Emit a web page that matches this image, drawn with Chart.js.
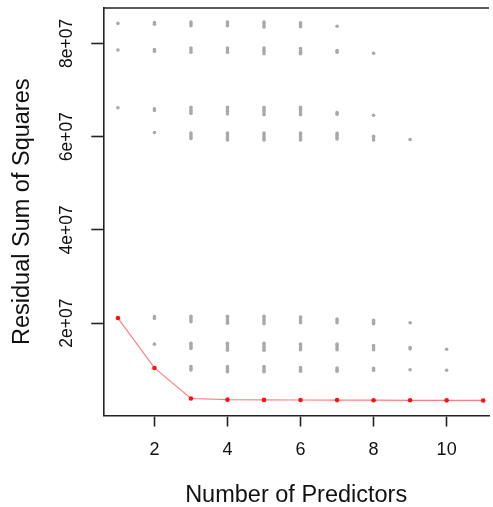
<!DOCTYPE html>
<html>
<head>
<meta charset="utf-8">
<script src="https://cdn.jsdelivr.net/npm/chart.js@4.4.1/dist/chart.umd.min.js"></script>
<style>
  html, body { margin: 0; padding: 0; background: #ffffff; overflow: hidden; }
  #wrap { width: 493px; height: 507px; }
</style>
</head>
<body>
<div id="wrap"><canvas id="c" width="493" height="507"></canvas></div>
<script>
// ---- data ----
const numPredictors = [1, 2, 3, 4, 5, 6, 7, 8, 9, 10, 11];

// best model RSS for each number of predictors (red line)
const bestRSS = [2.11e7, 1.04e7, 3.85e6, 3.6e6, 3.55e6, 3.52e6, 3.5e6, 3.48e6, 3.46e6, 3.45e6, 3.43e6];

// RSS of all candidate models (grey points), one list per number of predictors
const rssK1 = [8.43e7, 7.86e7, 6.62e7];
const rssK2 = [8.45e7, 8.41e7, 7.87e7, 7.83e7, 6.60e7, 6.56e7, 6.09e7, 2.14e7, 2.10e7, 1.55e7];
const rssK3 = [8.46e7, 8.42e7, 8.38e7, 7.90e7, 7.86e7, 7.81e7, 6.63e7, 6.58e7, 6.54e7, 6.50e7,
               6.08e7, 6.04e7, 6.00e7, 5.96e7, 2.15e7, 2.11e7, 2.07e7, 2.03e7,
               1.57e7, 1.53e7, 1.50e7, 1.46e7, 1.07e7, 1.03e7, 0.995e7];
const rssK4 = [8.46e7, 8.42e7, 8.38e7, 7.90e7, 7.86e7, 7.81e7, 6.63e7, 6.58e7, 6.54e7, 6.49e7,
               6.08e7, 6.04e7, 6.00e7, 5.96e7, 5.93e7, 2.15e7, 2.11e7, 2.07e7, 2.03e7, 2.00e7,
               1.57e7, 1.53e7, 1.49e7, 1.45e7, 1.42e7, 1.07e7, 1.03e7, 0.99e7, 0.96e7];
const rssK5 = [8.46e7, 8.42e7, 8.38e7, 8.35e7, 7.90e7, 7.86e7, 7.82e7, 7.78e7,
               6.63e7, 6.59e7, 6.55e7, 6.51e7, 6.47e7, 6.08e7, 6.04e7, 6.00e7, 5.96e7, 5.93e7,
               2.15e7, 2.11e7, 2.07e7, 2.03e7, 1.99e7, 1.57e7, 1.53e7, 1.49e7, 1.45e7, 1.42e7,
               1.07e7, 1.03e7, 0.99e7, 0.96e7];
const rssK6 = [8.44e7, 8.40e7, 8.36e7, 7.89e7, 7.85e7, 7.81e7, 7.78e7,
               6.63e7, 6.59e7, 6.55e7, 6.51e7, 6.47e7, 6.08e7, 6.04e7, 6.00e7, 5.96e7, 5.93e7,
               2.13e7, 2.09e7, 2.05e7, 2.01e7, 1.55e7, 1.51e7, 1.47e7, 1.43e7,
               1.05e7, 1.01e7, 0.97e7];
const rssK7 = [8.37e7, 7.85e7, 7.81e7, 6.52e7, 6.48e7, 6.07e7, 6.03e7, 5.99e7, 5.95e7,
               2.09e7, 2.05e7, 2.01e7, 1.55e7, 1.51e7, 1.47e7, 1.43e7, 1.04e7, 1.00e7, 0.97e7];
const rssK8 = [7.79e7, 6.46e7, 6.01e7, 5.97e7, 5.93e7, 2.06e7, 2.02e7, 1.99e7,
               1.52e7, 1.48e7, 1.43e7, 1.03e7, 0.99e7];
const rssK9 = [5.94e7, 2.01e7, 1.48e7, 1.45e7, 1.00e7];
const rssK10 = [1.44e7, 0.99e7];
const rssK11 = [];
const allRSS = [rssK1, rssK2, rssK3, rssK4, rssK5, rssK6, rssK7, rssK8, rssK9, rssK10, rssK11];

const xTickValues = [2, 4, 6, 8, 10];
const yTickValues = [2e7, 4e7, 6e7, 8e7];
const yTickLabels = ["2e+07", "4e+07", "6e+07", "8e+07"];
const xTitle = "Number of Predictors";
const yTitle = "Residual Sum of Squares";

// ---- build datasets ----
const greyPoints = [];
allRSS.forEach((list, i) => list.forEach(v => greyPoints.push({ x: numPredictors[i], y: v })));
const bestPoints = numPredictors.map((k, i) => ({ x: k, y: bestRSS[i] }));

const FONT = '"Liberation Sans", Arial, Helvetica, sans-serif';

const topBorder = {
  id: 'topBorder',
  afterDraw(chart) {
    const { ctx, chartArea } = chart;
    ctx.save();
    ctx.strokeStyle = '#222';
    ctx.lineWidth = 1.6;
    ctx.beginPath();
    ctx.moveTo(chartArea.left, chartArea.top);
    ctx.lineTo(chartArea.right, chartArea.top);
    ctx.stroke();
    ctx.restore();
  }
};

new Chart(document.getElementById('c'), {
  type: 'scatter',
  data: {
    datasets: [
      {
        label: 'best',
        type: 'line',
        data: bestPoints,
        borderColor: 'rgba(255,60,60,0.65)',
        borderWidth: 1.2,
        pointBackgroundColor: '#ff1010',
        pointBorderWidth: 0,
        pointRadius: 2.3,
        tension: 0,
        fill: false,
        order: 0
      },
      {
        label: 'all',
        data: greyPoints,
        backgroundColor: '#a9a9a9',
        borderWidth: 0,
        pointRadius: 1.8,
        order: 1
      }
    ]
  },
  plugins: [topBorder],
  options: {
    responsive: false,
    animation: false,
    events: [],
    layout: { padding: { top: 8, left: 0, right: 0, bottom: 0 } },
    plugins: { legend: { display: false }, tooltip: { enabled: false } },
    scales: {
      x: {
        type: 'linear',
        min: 0.6,
        max: 11.16,
        afterBuildTicks: s => { s.ticks = xTickValues.map(v => ({ value: v })); },
        afterFit: s => { s.height = 91.5; s.paddingLeft = 0; s.paddingRight = 0; },
        grid: { drawOnChartArea: false, drawTicks: true, tickLength: 11, tickWidth: 1.6, tickColor: '#222' },
        border: { display: true, color: '#222', width: 1.6 },
        ticks: { color: '#111', padding: 13, font: { family: FONT, size: 18 }, maxRotation: 0, callback: v => String(v) },
        title: { display: true, text: xTitle, color: '#111', font: { family: FONT, size: 23.5, lineHeight: 1 }, padding: { top: 0, bottom: 0 } }
      },
      y: {
        type: 'linear',
        min: 2e5,
        max: 8.76e7,
        afterBuildTicks: s => { s.ticks = yTickValues.map(v => ({ value: v })); },
        afterFit: s => { s.width = 103.3; s.paddingTop = 0; s.paddingBottom = 0; },
        grid: { drawOnChartArea: false, drawTicks: true, tickLength: 12, tickWidth: 1.6, tickColor: '#222' },
        border: { display: true, color: '#222', width: 1.6 },
        ticks: {
          color: '#111', padding: 0, crossAlign: 'center', minRotation: 90, maxRotation: 90,
          font: { family: FONT, size: 17.5, lineHeight: 1 },
          callback: (v, i) => yTickLabels[i]
        },
        title: { display: true, text: yTitle, color: '#111', font: { family: FONT, size: 23.5, lineHeight: 1 }, padding: { top: 11, bottom: 0 } }
      }
    }
  }
});
</script>
</body>
</html>
